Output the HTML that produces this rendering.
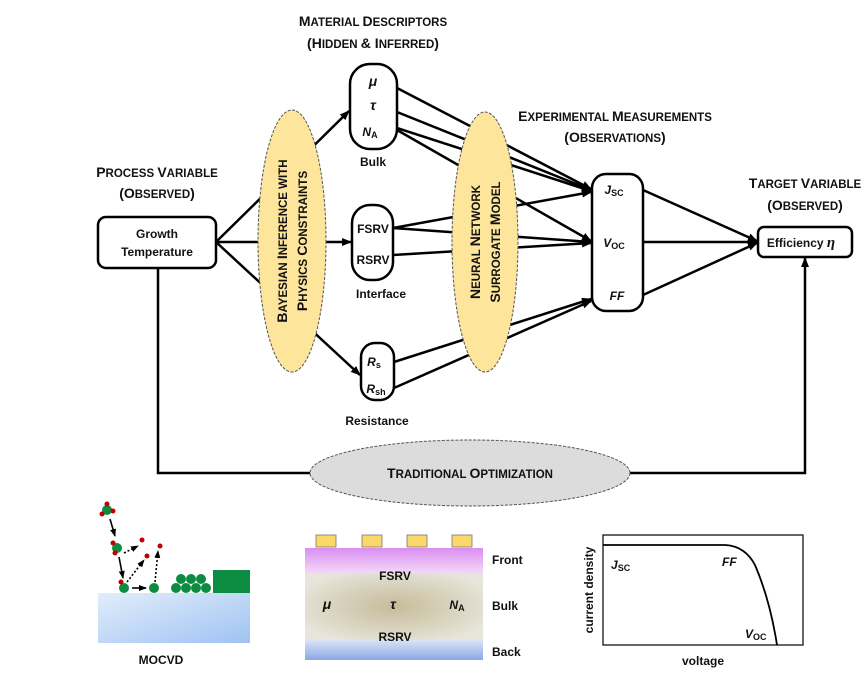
<!DOCTYPE html>
<html><head><meta charset="utf-8"><style>
body{margin:0;background:#fff;}
svg text{font-family:"Liberation Sans",sans-serif;font-weight:bold;fill:#111;}
.h{font-size:14px;}
.s{font-size:11.5px;}
</style></head><body>
<svg width="867" height="691" viewBox="0 0 867 691" xmlns="http://www.w3.org/2000/svg">
<defs>
<marker id="a" markerWidth="10" markerHeight="10" refX="9" refY="5" orient="auto" markerUnits="userSpaceOnUse"><path d="M0,1 L10,5 L0,9 Z" fill="#000"/></marker>
<marker id="d" markerWidth="8" markerHeight="8" refX="7" refY="4" orient="auto" markerUnits="userSpaceOnUse"><path d="M0,1 L8,4 L0,7 Z" fill="#000"/></marker>
<linearGradient id="sub" x1="0" y1="0" x2="1" y2="1"><stop offset="0" stop-color="#e2edfb"/><stop offset="1" stop-color="#9fc3f3"/></linearGradient>
<linearGradient id="fr" x1="0" y1="0" x2="0" y2="1"><stop offset="0" stop-color="#d98ef0"/><stop offset="1" stop-color="#f2d8f8"/></linearGradient>
<radialGradient id="bk" cx="0.5" cy="0.5" r="0.6"><stop offset="0" stop-color="#c6bc9a"/><stop offset="1" stop-color="#e8e6dc"/></radialGradient>
<linearGradient id="bb" x1="0" y1="0" x2="0" y2="1"><stop offset="0" stop-color="#dbe4f6"/><stop offset="1" stop-color="#8aa7e6"/></linearGradient>
</defs>

<!-- headers -->
<text x="373" y="26" text-anchor="middle" class="h">M<tspan class="s">ATERIAL </tspan>D<tspan class="s">ESCRIPTORS</tspan></text>
<text x="373" y="48" text-anchor="middle" class="h">(H<tspan class="s">IDDEN </tspan>&amp; I<tspan class="s">NFERRED</tspan>)</text>
<text x="157" y="177" text-anchor="middle" class="h">P<tspan class="s">ROCESS </tspan>V<tspan class="s">ARIABLE</tspan></text>
<text x="157" y="198" text-anchor="middle" class="h">(O<tspan class="s">BSERVED</tspan>)</text>
<text x="615" y="121" text-anchor="middle" class="h">E<tspan class="s">XPERIMENTAL </tspan>M<tspan class="s">EASUREMENTS</tspan></text>
<text x="615" y="142" text-anchor="middle" class="h">(O<tspan class="s">BSERVATIONS</tspan>)</text>
<text x="805" y="188" text-anchor="middle" class="h">T<tspan class="s">ARGET </tspan>V<tspan class="s">ARIABLE</tspan></text>
<text x="805" y="210" text-anchor="middle" class="h">(O<tspan class="s">BSERVED</tspan>)</text>

<!-- connectors -->
<g stroke="#000" stroke-width="2.5" fill="none">
<line x1="216" y1="242" x2="349" y2="111" marker-end="url(#a)"/>
<line x1="216" y1="242" x2="351" y2="242" marker-end="url(#a)"/>
<line x1="216" y1="242" x2="360" y2="375" marker-end="url(#a)"/>
<line x1="397" y1="88" x2="591" y2="189" marker-end="url(#a)"/>
<line x1="397" y1="112" x2="591" y2="190" marker-end="url(#a)"/>
<line x1="397" y1="128" x2="591" y2="191" marker-end="url(#a)"/>
<line x1="397" y1="130" x2="591" y2="241" marker-end="url(#a)"/>
<line x1="393" y1="228" x2="591" y2="192" marker-end="url(#a)"/>
<line x1="393" y1="228" x2="591" y2="242" marker-end="url(#a)"/>
<line x1="393" y1="255" x2="591" y2="243" marker-end="url(#a)"/>
<line x1="394" y1="362" x2="591" y2="299" marker-end="url(#a)"/>
<line x1="394" y1="388" x2="591" y2="301" marker-end="url(#a)"/>
<line x1="643" y1="190" x2="757" y2="241" marker-end="url(#a)"/>
<line x1="643" y1="242" x2="757" y2="242" marker-end="url(#a)"/>
<line x1="643" y1="295" x2="757" y2="243" marker-end="url(#a)"/>
<polyline points="158,268 158,473 805,473 805,258" marker-end="url(#a)"/>
</g>

<!-- ellipses -->
<ellipse cx="292" cy="241" rx="34" ry="131" fill="#fde59b" stroke="#555" stroke-width="1" stroke-dasharray="3,1.5"/>
<text transform="translate(287,241) rotate(-90)" text-anchor="middle" class="h">B<tspan class="s">AYESIAN </tspan>I<tspan class="s">NFERENCE WITH</tspan></text>
<text transform="translate(307,241) rotate(-90)" text-anchor="middle" class="h">P<tspan class="s">HYSICS </tspan>C<tspan class="s">ONSTRAINTS</tspan></text>
<ellipse cx="485" cy="242" rx="33" ry="130" fill="#fde59b" stroke="#555" stroke-width="1" stroke-dasharray="3,1.5"/>
<text transform="translate(480,242) rotate(-90)" text-anchor="middle" class="h">N<tspan class="s">EURAL </tspan>N<tspan class="s">ETWORK</tspan></text>
<text transform="translate(500,242) rotate(-90)" text-anchor="middle" class="h">S<tspan class="s">URROGATE </tspan>M<tspan class="s">ODEL</tspan></text>
<ellipse cx="470" cy="473" rx="160" ry="33" fill="#dcdcdc" stroke="#555" stroke-width="1" stroke-dasharray="3,1.5"/>
<text x="470" y="478" text-anchor="middle" class="h">T<tspan class="s">RADITIONAL </tspan>O<tspan class="s">PTIMIZATION</tspan></text>

<!-- boxes -->
<g stroke="#000" stroke-width="2.5" fill="#fff">
<rect x="98" y="217" width="118" height="51" rx="8"/>
<rect x="350" y="64" width="47" height="85" rx="20"/>
<rect x="352" y="205" width="41" height="75" rx="18"/>
<rect x="361" y="343" width="33" height="57" rx="14"/>
<rect x="592" y="174" width="51" height="137" rx="14"/>
<rect x="758" y="227" width="94" height="30" rx="6"/>
</g>
<g font-size="12">
<text x="157" y="238" text-anchor="middle">Growth</text>
<text x="157" y="256" text-anchor="middle">Temperature</text>
<text x="373" y="86" text-anchor="middle" font-style="italic" font-family="Liberation Serif" font-size="14">μ</text>
<text x="373" y="110" text-anchor="middle" font-style="italic" font-family="Liberation Serif" font-size="14">τ</text>
<text x="370" y="136" text-anchor="middle" font-style="italic">N<tspan font-size="9" font-style="normal" dy="2">A</tspan></text>
<text x="373" y="166" text-anchor="middle">Bulk</text>
<text x="373" y="233" text-anchor="middle">FSRV</text>
<text x="373" y="264" text-anchor="middle">RSRV</text>
<text x="381" y="298" text-anchor="middle">Interface</text>
<text x="374" y="366" text-anchor="middle" font-style="italic">R<tspan font-size="9" font-style="normal" dy="2">s</tspan></text>
<text x="376" y="393" text-anchor="middle" font-style="italic">R<tspan font-size="9" font-style="normal" dy="2">sh</tspan></text>
<text x="377" y="425" text-anchor="middle">Resistance</text>
<text x="614" y="194" text-anchor="middle" font-style="italic">J<tspan font-size="9" font-style="normal" dy="2">SC</tspan></text>
<text x="614" y="247" text-anchor="middle" font-style="italic">V<tspan font-size="9" font-style="normal" dy="2">OC</tspan></text>
<text x="617" y="300" text-anchor="middle" font-style="italic">FF</text>
<text x="801" y="247" text-anchor="middle">Efficiency <tspan font-family="Liberation Serif" font-style="italic" font-size="15">η</tspan></text>
</g>

<!-- MOCVD -->
<rect x="98" y="593" width="152" height="50" fill="url(#sub)"/>
<rect x="213" y="570" width="37" height="23" fill="#0c8c40"/>
<g fill="#0c8c40">
<circle cx="176" cy="588" r="5"/><circle cx="186" cy="588" r="5"/><circle cx="196" cy="588" r="5"/><circle cx="206" cy="588" r="5"/>
<circle cx="181" cy="579" r="5"/><circle cx="191" cy="579" r="5"/><circle cx="201" cy="579" r="5"/>
<circle cx="124" cy="588" r="5"/><circle cx="154" cy="588" r="5"/>
<circle cx="107" cy="510" r="5"/><circle cx="117" cy="548" r="5"/>
</g>
<g fill="#c00000">
<circle cx="107" cy="504" r="2.5"/><circle cx="102" cy="514" r="2.5"/><circle cx="113" cy="511" r="2.5"/>
<circle cx="113" cy="543" r="2.5"/><circle cx="115" cy="553" r="2.5"/><circle cx="142" cy="540" r="2.5"/>
<circle cx="147" cy="556" r="2.5"/><circle cx="160" cy="546" r="2.5"/><circle cx="121" cy="582" r="2.5"/>
</g>
<g stroke="#000" stroke-width="1.6" fill="none">
<line x1="110" y1="519" x2="115" y2="536" marker-end="url(#d)"/>
<line x1="119" y1="557" x2="123" y2="578" marker-end="url(#d)"/>
<line x1="132" y1="588" x2="146" y2="588" marker-end="url(#d)"/>
<line x1="124" y1="553" x2="138" y2="546" stroke-dasharray="2,2" marker-end="url(#d)"/>
<line x1="127" y1="582" x2="144" y2="560" stroke-dasharray="2,2" marker-end="url(#d)"/>
<line x1="155" y1="582" x2="158" y2="551" stroke-dasharray="2,2" marker-end="url(#d)"/>
</g>
<text x="161" y="664" text-anchor="middle" font-size="12">MOCVD</text>

<!-- cell -->
<g fill="#fcd76a" stroke="#777" stroke-width="0.8">
<rect x="316" y="535" width="20" height="12"/><rect x="362" y="535" width="20" height="12"/>
<rect x="407" y="535" width="20" height="12"/><rect x="452" y="535" width="20" height="12"/>
</g>
<rect x="305" y="548" width="178" height="25" fill="url(#fr)"/>
<rect x="305" y="573" width="178" height="67" fill="url(#bk)"/>
<rect x="305" y="640" width="178" height="20" fill="url(#bb)"/>
<g font-size="12">
<text x="395" y="580" text-anchor="middle">FSRV</text>
<text x="395" y="641" text-anchor="middle">RSRV</text>
<text x="327" y="609" text-anchor="middle" font-style="italic" font-family="Liberation Serif" font-size="14">μ</text>
<text x="393" y="609" text-anchor="middle" font-style="italic" font-family="Liberation Serif" font-weight="normal" font-size="14">τ</text>
<text x="457" y="609" text-anchor="middle" font-style="italic">N<tspan font-size="9" font-style="normal" dy="2">A</tspan></text>
<text x="492" y="564">Front</text>
<text x="492" y="610">Bulk</text>
<text x="492" y="656">Back</text>
</g>

<!-- IV -->
<rect x="603" y="535" width="200" height="110" fill="#fff" stroke="#000" stroke-width="1.2"/>
<path d="M603,545 L725,545 Q745,546 755,565 Q770,600 777,645" fill="none" stroke="#000" stroke-width="1.8"/>
<g font-size="12">
<text x="611" y="569" font-style="italic">J<tspan font-size="9" font-style="normal" dy="2">SC</tspan></text>
<text x="722" y="566" font-style="italic">FF</text>
<text x="745" y="638" font-style="italic">V<tspan font-size="9" font-style="normal" dy="2">OC</tspan></text>
<text x="703" y="665" text-anchor="middle">voltage</text>
<text transform="translate(593,590) rotate(-90)" text-anchor="middle">current density</text>
</g>
</svg>
</body></html>
